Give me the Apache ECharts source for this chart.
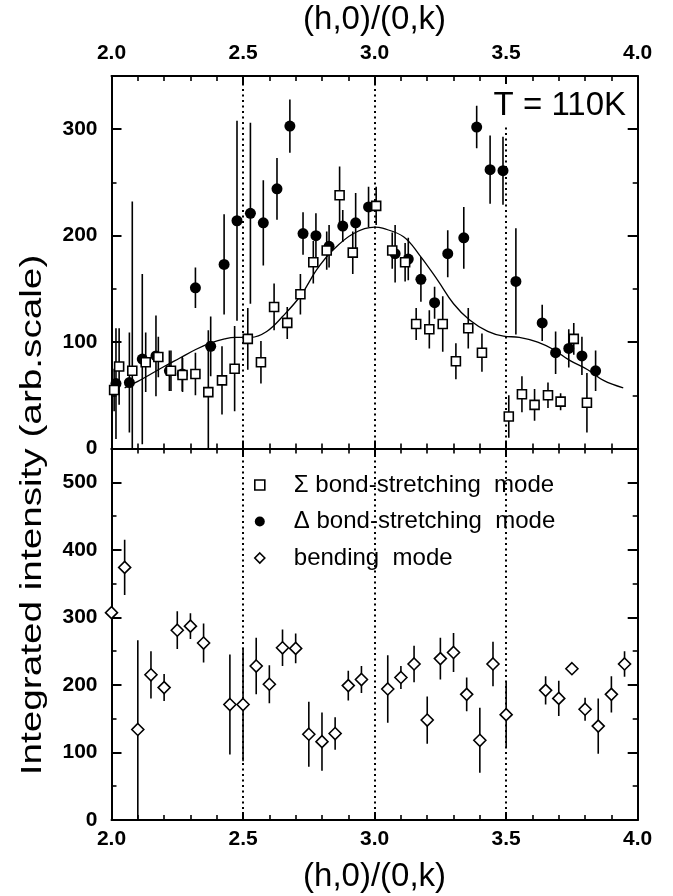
<!DOCTYPE html>
<html><head><meta charset="utf-8">
<script src="https://cdn.jsdelivr.net/npm/echarts@6/dist/echarts.min.js"></script>
<style>html,body{margin:0;padding:0;background:#fff}#c{width:673px;height:896px}</style>
</head><body><div id="c"></div>
<script>
// ---- data ----
const xAxisTitle = '(h,0)/(0,k)';
const yAxisTitle = 'Integrated intensity (arb.scale)';
const tempLabel = 'T = 110K';
const seriesNames = ['\u03A3 bond-stretching  mode', '\u0394 bond-stretching  mode', 'bending  mode'];
const dividerX = [2.5, 3.0, 3.5];

// Sigma bond-stretching (open squares, upper panel)
const sigmaX = [2.010,2.029,2.079,2.130,2.178,2.226,2.270,2.319,2.368,2.420,2.468,2.518,2.568,2.618,2.668,2.718,2.767,2.818,2.867,2.917,3.006,3.067,3.116,3.158,3.208,3.259,3.309,3.356,3.408,3.510,3.560,3.608,3.659,3.707,3.757,3.807];
const sigmaY = [55,77,73,81,86,73,69,70,53,64,75,103,81,133,118,145,175,186,238,184,228,186,175,117,112,117,82,113,90,30,51,41,50,44,103,43];
const sigmaErr = [20,36,159,28,19,19,16,20,58,32,40,29,20,22,15,19,20,18,27,20,18,17,18,15,18,26,17,19,18,20,17,15,12,8,15,28];

// Delta bond-stretching (filled circles, upper panel)
const deltaX = [2.017,2.068,2.117,2.169,2.220,2.269,2.319,2.377,2.428,2.477,2.528,2.577,2.629,2.678,2.728,2.777,2.827,2.879,2.928,2.977,3.078,3.128,3.176,3.228,3.278,3.339,3.388,3.439,3.488,3.537,3.637,3.688,3.738,3.788,3.840];
const deltaY = [61,62,84,87,73,70,151,96,173,214,221,212,244,303,202,200,190,209,212,227,183,178,159,137,183,198,302,262,261,157,118,90,94,87,73];
const deltaErr = [52,47,80,38,19,16,19,28,47,94,85,40,29,25,20,21,20,15,28,19,27,20,21,15,22,29,20,32,32,50,17,20,18,18,19];

// fit curve (upper panel)
const fitX = [2.05,2.10,2.15,2.20,2.26,2.32,2.375,2.43,2.47,2.53,2.59,2.65,2.72,2.78,2.84,2.92,3.00,3.03,3.11,3.17,3.24,3.30,3.36,3.43,3.49,3.55,3.62,3.68,3.74,3.81,3.87,3.945];
const fitY = [57,63,70,77,85,93,99,103,104.5,104.5,110,124,144,168,186,202,208,207,199,182,158,136,121,110,105.5,104.5,100,93,83,74,64,57];

// bending mode (open diamonds, lower panel)
const bendX = [2.00,2.05,2.10,2.15,2.20,2.25,2.30,2.35,2.45,2.50,2.55,2.60,2.65,2.70,2.75,2.80,2.85,2.90,2.95,3.05,3.10,3.15,3.20,3.25,3.30,3.35,3.40,3.45,3.50,3.65,3.70,3.75,3.80,3.85,3.90,3.95];
const bendY = [307,374,134,215,196,281,287,262,171,171,228,201,255,254,127,116,128,199,208,194,211,231,148,239,248,186,118,231,156,192,180,224,164,139,186,231];
const bendErr = [0,41,132,35,20,28,19,29,74,84,42,28,27,22,48,43,24,22,20,50,17,27,35,31,29,25,48,33,49,21,26,5,17,41,27,19];

// axis ranges / ticks
const xMin = 2.0, xMax = 4.0, xStep = 0.5;
const topMax = 350, botMax = 550, yStep = 100;

// ---- build ----
const zip = (xs, ys, es) => xs.map((x, i) => es ? [x, ys[i], es[i]] : [x, ys[i]]);
const FONT = 'Liberation Sans';
const black = '#000';

function errSeries(data, xi, yi) {
  return {
    type: 'custom', xAxisIndex: xi, yAxisIndex: yi, clip: true, silent: true,
    data: data, z: 3,
    renderItem: function (params, api) {
      const x = api.value(0), y = api.value(1), e = api.value(2);
      const p1 = api.coord([x, y - e]), p2 = api.coord([x, y + e]);
      return { type: 'line', shape: { x1: p1[0], y1: p1[1], x2: p2[0], y2: p2[1] },
               style: { stroke: black, lineWidth: 1.6 } };
    }
  };
}

function xAx(grid, pos, labels, name, gap) {
  return {
    type: 'value', gridIndex: grid, position: pos, min: xMin, max: xMax, interval: xStep,
    axisLine: { show: true, onZero: false, lineStyle: { color: black, width: 2 } },
    axisTick: { show: true, inside: true, length: 8, lineStyle: { color: black, width: 2 } },
    minorTick: { show: true, splitNumber: 5, length: 5, lineStyle: { color: black, width: 1.6 } },
    splitLine: { show: false }, minorSplitLine: { show: false },
    axisLabel: { show: labels, formatter: v => v.toFixed(1), color: black, fontFamily: FONT,
                 fontSize: 21, fontWeight: 'bold', margin: pos === 'top' ? 12 : 9 },
    name: name || '', nameLocation: 'middle', nameGap: gap || 0,
    nameTextStyle: { color: black, fontFamily: FONT, fontSize: 33 }
  };
}
function yAx(grid, pos, labels, max) {
  return {
    type: 'value', gridIndex: grid, position: pos, min: 0, max: max, interval: yStep,
    axisLine: { show: true, onZero: false, lineStyle: { color: black, width: 2 } },
    axisTick: { show: true, inside: true, length: 10, lineStyle: { color: black, width: 2 } },
    minorTick: { show: true, splitNumber: 2, length: 5, lineStyle: { color: black, width: 1.6 } },
    splitLine: { show: false }, minorSplitLine: { show: false },
    axisLabel: { show: labels, showMaxLabel: false, color: black, fontFamily: FONT,
                 fontSize: 21, fontWeight: 'bold', margin: 14 }
  };
}

const dotted = { type: [2, 3.5], color: black, width: 2 };

const option = {
  animation: false,
  backgroundColor: '#fff',
  grid: [
    { left: 111.5, right: 35.3, top: 76, height: 372.5 },
    { left: 111.5, right: 35.3, top: 448.5, height: 371.5 }
  ],
  xAxis: [
    xAx(0, 'top', true, xAxisTitle, 40),
    xAx(0, 'bottom', false),
    xAx(1, 'top', false),
    xAx(1, 'bottom', true, xAxisTitle, 40)
  ],
  yAxis: [
    yAx(0, 'left', true, topMax),
    yAx(0, 'right', false, topMax),
    yAx(1, 'left', true, botMax),
    yAx(1, 'right', false, botMax)
  ],
  legend: {
    orient: 'vertical', left: 249, top: 468, itemWidth: 10, itemHeight: 10, itemGap: 12.5,
    selectedMode: false,
    textStyle: { color: black, fontFamily: FONT, fontSize: 24, lineHeight: 24, padding: [0, 0, 0, 24] },
    data: [
      { name: seriesNames[0], icon: 'rect', itemStyle: { color: '#fff', borderColor: black, borderWidth: 1.6 } },
      { name: seriesNames[1], icon: 'circle', itemStyle: { color: black, borderWidth: 0 } },
      { name: seriesNames[2], icon: 'diamond', itemStyle: { color: '#fff', borderColor: black, borderWidth: 1.6 } }
    ]
  },
  graphic: [
    { type: 'text', x: 33, y: 515, rotation: Math.PI / 2, scaleX: 1.29, z: 100,
      style: { text: yAxisTitle, fontFamily: FONT, fontSize: 30, fill: black,
               textAlign: 'center', textVerticalAlign: 'middle', align: 'center', verticalAlign: 'middle' } },
    { type: 'text', x: 626, y: 106, z: 100,
      style: { text: tempLabel, fontFamily: FONT, fontSize: 33, fill: black,
               textAlign: 'right', textVerticalAlign: 'middle', align: 'right', verticalAlign: 'middle' } }
  ],
  series: [
    {
      type: 'line', name: 'fit', xAxisIndex: 0, yAxisIndex: 0, data: zip(fitX, fitY),
      smooth: 0.4, showSymbol: false, silent: true, z: 2,
      lineStyle: { color: black, width: 1.3 },
      markLine: {
        silent: true, symbol: ['none', 'none'], label: { show: false }, lineStyle: dotted,
        data: [
          { xAxis: dividerX[0] }, { xAxis: dividerX[1] },
          [{ coord: [dividerX[2], 0] }, { coord: [dividerX[2], 302] }]
        ]
      }
    },
    errSeries(zip(deltaX, deltaY, deltaErr), 0, 0),
    errSeries(zip(sigmaX, sigmaY, sigmaErr), 0, 0),
    errSeries(zip(bendX, bendY, bendErr), 3, 2),
    {
      type: 'scatter', name: seriesNames[1], xAxisIndex: 0, yAxisIndex: 0, data: zip(deltaX, deltaY),
      symbol: 'circle', symbolSize: 11, itemStyle: { color: black, opacity: 1 }, z: 4
    },
    {
      type: 'scatter', name: seriesNames[0], xAxisIndex: 0, yAxisIndex: 0, data: zip(sigmaX, sigmaY),
      symbol: 'rect', symbolSize: 9, itemStyle: { color: '#fff', borderColor: black, borderWidth: 1.6, opacity: 1 }, z: 5
    },
    {
      type: 'scatter', name: seriesNames[2], xAxisIndex: 3, yAxisIndex: 2, data: zip(bendX, bendY),
      symbol: 'diamond', symbolSize: 12, itemStyle: { color: '#fff', borderColor: black, borderWidth: 1.6, opacity: 1 }, z: 5,
      markLine: {
        silent: true, symbol: ['none', 'none'], label: { show: false }, lineStyle: dotted,
        data: dividerX.map(v => ({ xAxis: v }))
      }
    }
  ]
};

const chart = echarts.init(document.getElementById('c'), null, { renderer: 'canvas' });
chart.setOption(option);
</script>
</body></html>
